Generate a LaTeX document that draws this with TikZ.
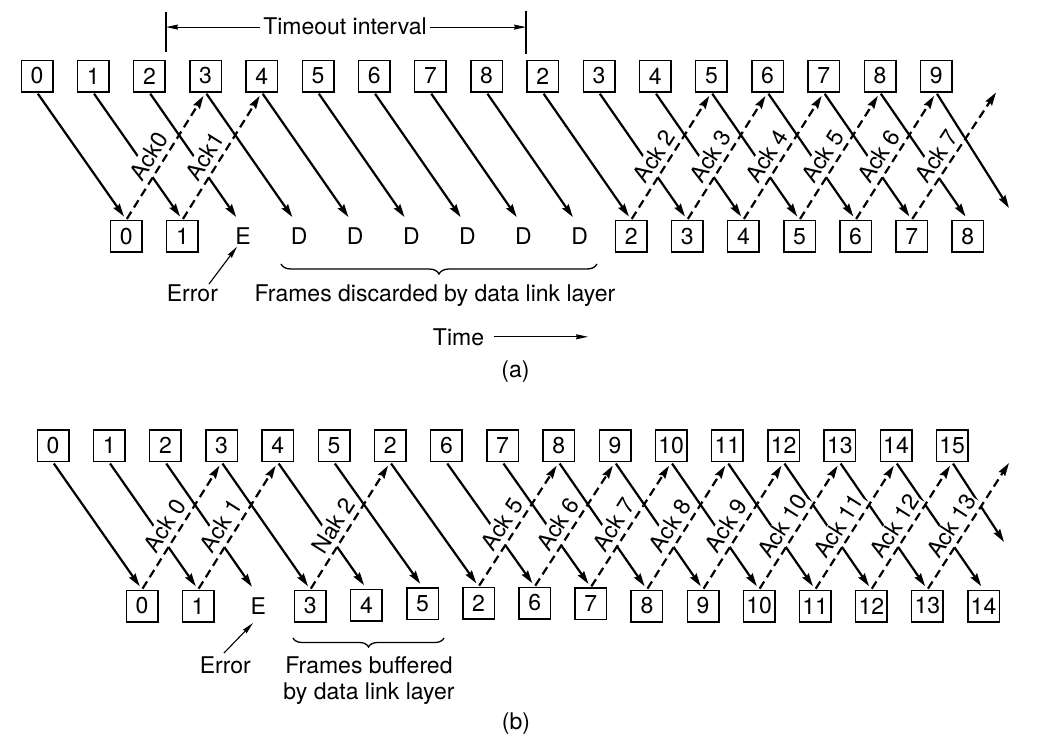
\documentclass[tikz,border=0pt]{standalone}
\usepackage{fontspec}
\setmainfont{TeX Gyre Heros}
\usetikzlibrary{arrows.meta,decorations.pathreplacing,calc}
\begin{document}
\begin{tikzpicture}[x=1pt,y=-1pt,
  font=\fontsize{23}{27}\selectfont,
  fbox/.style={draw, line width=1.5pt, minimum width=31.5pt, minimum height=31.5pt, inner sep=0pt},
  fnone/.style={minimum width=31.5pt, minimum height=31.5pt, inner sep=0pt},
  fra/.style={line width=2.2pt, -{Stealth[length=13pt,width=7.5pt,inset=1.5pt]}, shorten <=1.5pt, shorten >=4pt},
  ack/.style={line width=2.2pt, dash pattern=on 8.5pt off 5pt, -{Stealth[length=13pt,width=7.5pt,inset=1.5pt]}, shorten <=1pt, shorten >=4pt},
  acklbl/.style={sloped, anchor=south, fill=white, inner xsep=1pt, inner ysep=1pt, text depth=5pt},
  thinarr/.style={line width=1.1pt, -{Stealth[length=12pt,width=5pt,inset=1pt]}},
  plain/.style={line width=1.3pt},
  txt/.style={anchor=base, inner sep=0pt}
]
\useasboundingbox (0,0) rectangle (1045,747);

% ================= (a) =================
\foreach \i/\t in {0/0,1/1,2/2,3/3,4/4,5/5,6/6,7/7,8/8,9/2,10/3,11/4,12/5,13/6,14/7,15/8,16/9}
  \node[fbox] (ta\i) at ({37+56.2*\i},76) {\t};
\foreach \i/\t in {0/0,1/1,9/2,10/3,11/4,12/5,13/6,14/7,15/8}
  \node[fbox] (ba\i) at ({126.3+56.1*\i},236.3) {\t};
\foreach \i/\t in {2/E,3/D,4/D,5/D,6/D,7/D,8/D}
  \node[fnone] (ba\i) at ({126.3+56.1*\i},236.3) {\hspace*{9pt}\t};
\coordinate (ta17) at (996,92.5);
\coordinate (ea16) at (1009,208);

% frames
\foreach \i in {0,...,15}
  \draw[fra] (ta\i.south) -- (ba\i.north);
\draw[fra, shorten >=0pt] (ta16.south) -- (ea16);

% ack labels
\foreach \i/\l in {0/Ack0,1/Ack1,9/Ack 2,10/Ack 3,11/Ack 4,12/Ack 5,13/Ack 6}{
  \pgfmathtruncatemacro\j{\i+3}
  \path (ba\i.north) -- (ta\j.south) node[acklbl, pos=0.44] {\l};
}
\path (ba14.north) -- (ta17) node[acklbl, pos=0.44] {Ack 7};
% ack lines
\foreach \i in {0,1,9,10,11,12,13}{
  \pgfmathtruncatemacro\j{\i+3}
  \draw[ack] (ba\i.north) -- (ta\j.south);
}
\draw[ack, shorten >=0pt] (ba14.north) -- (ta17);

% timeout interval
\node[txt] (tout) at (345,34.3) {Timeout interval};
\coordinate (tlA) at (166,11.7);
\coordinate (tlB) at (166,52.3);
\coordinate (trA) at (526,11);
\coordinate (trB) at (526,54);
\draw[plain] (tlA) -- (tlB);
\draw[plain] (trA) -- (trB);
\draw[thinarr, shorten <=3pt] ([yshift=-1pt]tout.west) -- ([yshift=-1pt]tout.west -| tlA);
\draw[thinarr, shorten <=3pt] ([yshift=-1pt]tout.east) -- ([yshift=-1pt]tout.east -| trA);

% error, brace, texts
\node[txt] (erra) at (192.4,301) {Error};
\coordinate (erraS) at (209,284);
\coordinate (erraT) at (237,246.7);
\draw[thinarr] (erraS) -- (erraT);
\draw[plain, decorate, decoration={brace, mirror, amplitude=10pt}] (281,264) -- (597,264);
\node[txt] (disc) at (435,301) {Frames discarded by data link layer};
\node[txt] (time) at (458.5,345) {Time};
\coordinate (timeT) at (588,338);
\draw[thinarr, shorten <=10pt] (time.east) -- (time.east -| timeT);
\node[txt] (capa) at (515.5,377) {(a)};

% ================= (b) =================
\foreach \i/\t in {0/0,1/1,2/2,3/3,4/4,5/5,6/2,7/6,8/7,9/8,10/9,11/10,12/11,13/12,14/13,15/14,16/15}
  \node[fbox] (tb\i) at ({53+56.2*\i},445.8) {\t};
\foreach \i/\t/\y in {0/0/606,1/1/606,3/3/606,4/4/605,5/5/603.5,6/2/603,7/6/603,8/7/603.7,9/8/606,10/9/606,11/10/606,12/11/606,13/12/606,14/13/606,15/14/606}
  \node[fbox] (bb\i) at ({142+56.1*\i},\y) {\t};
\node[fnone] (bb2) at ({142+56.1*2},606) {\hspace*{8pt}E};
\coordinate (tb17) at (1009,463);
\coordinate (eb16) at (1004,542);

\foreach \i in {0,...,15}
  \draw[fra] (tb\i.south) -- (bb\i.north);
\draw[fra, shorten >=0pt] (tb16.south) -- (eb16);

\foreach \i/\l in {0/Ack 0,1/Ack 1,3/Nak 2,6/Ack 5,7/Ack 6,8/Ack 7,9/Ack 8,10/Ack 9,11/Ack 10,12/Ack 11,13/Ack 12}{
  \pgfmathtruncatemacro\j{\i+3}
  \path (bb\i.north) -- (tb\j.south) node[acklbl, pos=0.44] {\l};
}
\path (bb14.north) -- (tb17) node[acklbl, pos=0.44] {Ack 13};
\foreach \i in {0,1,3,6,7,8,9,10,11,12,13}{
  \pgfmathtruncatemacro\j{\i+3}
  \draw[ack] (bb\i.north) -- (tb\j.south);
}
\draw[ack, shorten >=0pt] (bb14.north) -- (tb17);

\node[txt] (errb) at (225.3,673) {Error};
\coordinate (errbS) at (224,653);
\coordinate (errbT) at (253,623);
\draw[thinarr] (errbS) -- (errbT);
\draw[plain, decorate, decoration={brace, mirror, amplitude=9pt}] (293,638) -- (444,638);
\node[txt] (buf1) at (369,673) {Frames buffered};
\node[txt] (buf2) at (369,699.3) {by data link layer};
\node[txt] (capb) at (516,729) {(b)};
\end{tikzpicture}
\end{document}
